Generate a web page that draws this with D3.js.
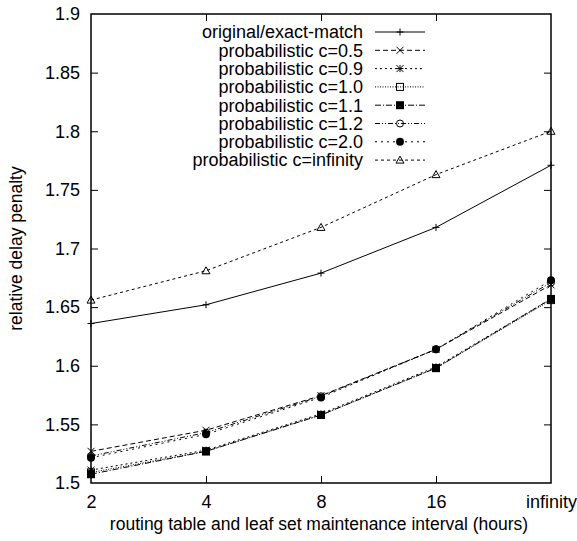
<!DOCTYPE html>
<html><head><meta charset="utf-8">
<script src="https://cdn.jsdelivr.net/npm/d3@7"></script>
<style>body{margin:0;background:#fff;} text{font-family:"Liberation Sans",Arial,sans-serif;fill:#000;}</style>
</head><body><svg id="c" width="577" height="541"></svg>
<script>
const categories = ["2","4","8","16","infinity"];
const yTicks = [1.5,1.55,1.6,1.65,1.7,1.75,1.8,1.85,1.9];
const seriesNames = ["original/exact-match","probabilistic c=0.5","probabilistic c=0.9","probabilistic c=1.0","probabilistic c=1.1","probabilistic c=1.2","probabilistic c=2.0","probabilistic c=infinity"];
const sOriginal = [1.636,1.652,1.679,1.718,1.771];
const sC05 = [1.527,1.545,1.5745,1.614,1.669];
const sC09 = [1.511,1.528,1.559,1.599,1.657];
const sC10 = [1.509,1.527,1.558,1.598,1.656];
const sC11 = [1.5075,1.527,1.558,1.598,1.657];
const sC12 = [1.523,1.543,1.574,1.614,1.671];
const sC20 = [1.5216,1.5415,1.573,1.614,1.673];
const sCinf = [1.656,1.681,1.718,1.763,1.800];
const seriesValues = [sOriginal,sC05,sC09,sC10,sC11,sC12,sC20,sCinf];

const dashes = [null,"5,3","2,3","1,1.5","6,2,1,2","5,2,1,2,1,2","2,4","3,3"];
const markers = ["plus","cross","star","square","fsquare","circle","fcircle","triangle"];

const svg = d3.select("#c");
const L=91,R=551,T=14,B=483;
const x = d3.scalePoint().domain(categories).range([L,R]);
const y = d3.scaleLinear().domain([1.5,1.9]).range([B,T]);

const fs = 18;
const gB = svg.append("g").attr("transform",`translate(0,${B})`)
  .call(d3.axisBottom(x).tickSize(-7).tickPadding(12));
const gT = svg.append("g").attr("transform",`translate(0,${T})`)
  .call(d3.axisTop(x).tickSize(-7).tickFormat(""));
const gL = svg.append("g").attr("transform",`translate(${L},0)`)
  .call(d3.axisLeft(y).tickValues(yTicks).tickSize(-7).tickPadding(11).tickFormat(d=>String(+d.toFixed(2))));
const gR = svg.append("g").attr("transform",`translate(${R},0)`)
  .call(d3.axisRight(y).tickValues(yTicks).tickSize(-7).tickFormat(""));
[gB,gT,gL,gR].forEach(g=>{
  g.select(".domain").remove();
  g.selectAll("line").attr("stroke","#000").attr("stroke-width",1);
  g.selectAll("text").attr("font-size",fs).attr("font-family","Liberation Sans, Arial, sans-serif").attr("fill","#000");
});
gB.selectAll(".tick").filter(d=>d===categories[0]||d===categories[categories.length-1]).select("line").remove();
gT.selectAll(".tick").filter(d=>d===categories[0]||d===categories[categories.length-1]).select("line").remove();
gL.selectAll(".tick").filter(d=>d===1.5||d===1.9).select("line").remove();
gR.selectAll(".tick").filter(d=>d===1.5||d===1.9).select("line").remove();
gB.selectAll("text").attr("dy","0.71em");

svg.append("rect").attr("x",L).attr("y",T).attr("width",R-L).attr("height",B-T)
  .attr("fill","none").attr("stroke","#000").attr("stroke-width",1.5);

svg.append("text").attr("x",(L+R)/2-2).attr("y",530).attr("text-anchor","middle").attr("font-size",17.5)
  .text("routing table and leaf set maintenance interval (hours)");
svg.append("text").attr("transform",`translate(22,${(T+B)/2}) rotate(-90)`).attr("text-anchor","middle").attr("font-size",17.5)
  .text("relative delay penalty");

function drawMarker(g,type,cx,cy){
  const s=3.5;
  if(type==="plus"){g.append("path").attr("d",`M${cx-s},${cy}H${cx+s}M${cx},${cy-s}V${cy+s}`).attr("stroke","#000").attr("fill","none");}
  else if(type==="cross"){g.append("path").attr("d",`M${cx-s},${cy-s}L${cx+s},${cy+s}M${cx-s},${cy+s}L${cx+s},${cy-s}`).attr("stroke","#000").attr("fill","none");}
  else if(type==="star"){g.append("path").attr("d",`M${cx-s},${cy}H${cx+s}M${cx},${cy-s}V${cy+s}M${cx-s},${cy-s}L${cx+s},${cy+s}M${cx-s},${cy+s}L${cx+s},${cy-s}`).attr("stroke","#000").attr("fill","none");}
  else if(type==="square"){g.append("rect").attr("x",cx-s).attr("y",cy-s).attr("width",2*s).attr("height",2*s).attr("fill","none").attr("stroke","#000");}
  else if(type==="fsquare"){g.append("rect").attr("x",cx-s-0.5).attr("y",cy-s-0.5).attr("width",2*s+1).attr("height",2*s+1).attr("fill","#000");}
  else if(type==="circle"){g.append("circle").attr("cx",cx).attr("cy",cy).attr("r",s).attr("fill","none").attr("stroke","#000");}
  else if(type==="fcircle"){g.append("circle").attr("cx",cx).attr("cy",cy).attr("r",s+0.5).attr("fill","#000");}
  else if(type==="triangle"){g.append("path").attr("d",`M${cx},${cy-s-0.5}L${cx+s+0.5},${cy+s-0.5}L${cx-s-0.5},${cy+s-0.5}Z`).attr("fill","none").attr("stroke","#000");}
}

const line = d3.line().x((d,i)=>x(categories[i])).y(d=>y(d));
const plot = svg.append("g");
seriesValues.forEach((vals,k)=>{
  const g = plot.append("g");
  g.append("path").attr("d",line(vals)).attr("fill","none").attr("stroke","#000").attr("stroke-width",1)
    .attr("stroke-dasharray",dashes[k]);
  vals.forEach((v,i)=>drawMarker(g,markers[k],x(categories[i]),y(v)));
});

const lg = svg.append("g");
seriesNames.forEach((name,k)=>{
  const ly = 32 + k*18.3;
  lg.append("text").attr("x",363).attr("y",ly).attr("dy","0.35em").attr("text-anchor","end").attr("font-size",fs).text(name);
  lg.append("line").attr("x1",375).attr("x2",425).attr("y1",ly).attr("y2",ly).attr("stroke","#000").attr("stroke-width",1).attr("stroke-dasharray",dashes[k]);
  drawMarker(lg,markers[k],400,ly);
});
</script></body></html>
